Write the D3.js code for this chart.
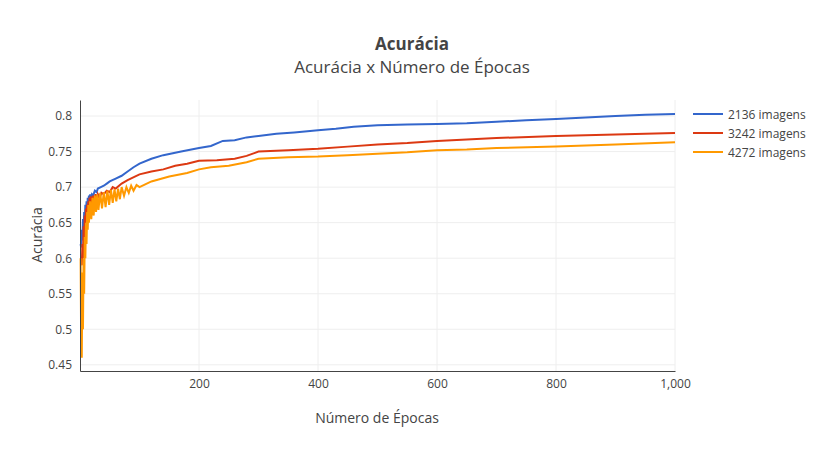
<!DOCTYPE html>
<html>
<head>
<meta charset="utf-8">
<script src="https://cdn.jsdelivr.net/npm/d3@7"></script>
<style>
body{margin:0;background:#fff;font-family:"Open Sans",sans-serif;}
.grid line{stroke:#eee;}
.axis text{fill:#444;font-size:12px;}
</style>
</head>
<body>
<script>
var names = ["2136 imagens", "3242 imagens", "4272 imagens"];
var colors = ["#3366cc", "#dc3912", "#ff9900"];
var epochsA = [1,2,3,4,5,6,7,8,9,10,11,12,13,14,15,16,17,18,20,22,25,28,30,35,40,45,50,60,70,80,90,100,120,140,170,200,220,240,260,280,300,330,360,400,430,460,500,550,600,650,700,750,800,850,900,950,1000];
var valsA = [0.62,0.615,0.64,0.625,0.655,0.635,0.665,0.65,0.675,0.66,0.68,0.665,0.685,0.675,0.688,0.68,0.69,0.685,0.69,0.688,0.695,0.693,0.698,0.70,0.702,0.705,0.708,0.712,0.716,0.722,0.728,0.733,0.74,0.745,0.75,0.755,0.758,0.765,0.766,0.77,0.772,0.775,0.777,0.78,0.782,0.785,0.787,0.788,0.789,0.79,0.792,0.794,0.796,0.798,0.80,0.802,0.803];
var epochsB = [2,3,4,5,6,7,8,9,10,11,12,13,14,15,16,17,18,20,22,24,26,28,30,33,36,40,45,50,55,60,70,80,100,120,140,160,180,200,230,260,280,300,350,400,450,500,550,600,700,800,900,1000];
var valsB = [0.60,0.59,0.62,0.60,0.645,0.62,0.66,0.64,0.67,0.65,0.675,0.66,0.68,0.665,0.685,0.67,0.687,0.675,0.688,0.678,0.69,0.68,0.69,0.685,0.692,0.69,0.695,0.693,0.70,0.698,0.705,0.71,0.718,0.722,0.725,0.73,0.733,0.737,0.738,0.74,0.744,0.75,0.752,0.754,0.757,0.76,0.762,0.765,0.769,0.772,0.774,0.776];
var epochsC = [1,2,3,4,5,6,7,8,9,10,11,12,13,14,15,17,19,21,23,25,27,29,31,34,37,40,43,46,49,52,55,58,61,64,67,70,74,78,82,86,90,95,100,120,150,180,200,220,250,280,300,350,400,450,500,550,600,650,700,800,900,1000];
var valsC = [0.60,0.47,0.46,0.58,0.50,0.60,0.55,0.63,0.60,0.65,0.62,0.665,0.64,0.675,0.65,0.68,0.655,0.685,0.66,0.688,0.665,0.69,0.668,0.692,0.67,0.693,0.672,0.695,0.675,0.696,0.678,0.697,0.68,0.698,0.683,0.70,0.688,0.70,0.692,0.702,0.695,0.703,0.70,0.708,0.715,0.72,0.725,0.728,0.73,0.735,0.74,0.742,0.743,0.745,0.747,0.749,0.752,0.753,0.755,0.757,0.76,0.763];
var series = [[epochsA, valsA], [epochsB, valsB], [epochsC, valsC]];
var yTicks = [0.45,0.5,0.55,0.6,0.65,0.7,0.75,0.8];
var xTicks = [200,400,600,800,1000];

var W = 824, H = 451, m = {l:80, r:149, t:100, b:80};
var svg = d3.select("body").append("svg").attr("width", W).attr("height", H);
var x = d3.scaleLinear().domain([0,1000]).range([m.l, W-m.r]);
var y = d3.scaleLinear().domain([0.4413,0.8226]).range([H-m.b, m.t]);

svg.append("g").attr("class","grid").selectAll("line").data(yTicks).enter().append("line")
  .attr("x1", m.l).attr("x2", W-m.r).attr("y1", d=>y(d)).attr("y2", d=>y(d));
svg.append("g").attr("class","grid").selectAll("line").data(xTicks).enter().append("line")
  .attr("y1", m.t).attr("y2", H-m.b).attr("x1", d=>x(d)).attr("x2", d=>x(d));

var line = d3.line().x(d=>x(d[0])).y(d=>y(d[1]));
series.forEach(function(s, i){
  var pts = s[0].map((e,j)=>[e, s[1][j]]);
  svg.append("path").datum(pts).attr("d", line).attr("fill","none")
    .attr("stroke", colors[i]).attr("stroke-width", 2);
});

var xa = svg.append("g").attr("class","axis").attr("transform","translate(0,"+(H-m.b)+")")
  .call(d3.axisBottom(x).tickValues(xTicks).tickSize(0).tickPadding(8));
xa.select(".domain").attr("stroke","#444");
var ya = svg.append("g").attr("class","axis").attr("transform","translate("+m.l+",0)")
  .call(d3.axisLeft(y).tickValues(yTicks).tickFormat(d3.format("")).tickSize(0).tickPadding(8));
ya.select(".domain").attr("stroke","#444");
svg.selectAll(".axis text").style("font-family","Open Sans");

svg.append("text").attr("x", 412).attr("y", 50).attr("text-anchor","middle")
  .style("font-size","17px").style("font-weight","bold").attr("fill","#444").text("Acurácia");
svg.append("text").attr("x", 412).attr("y", 73).attr("text-anchor","middle")
  .style("font-size","17px").attr("fill","#444").text("Acurácia x Número de Épocas");
svg.append("text").attr("x", 377).attr("y", 423).attr("text-anchor","middle")
  .style("font-size","14px").attr("fill","#444").text("Número de Épocas");
svg.append("text").attr("transform","translate(42,235) rotate(-90)").attr("text-anchor","middle")
  .style("font-size","14px").attr("fill","#444").text("Acurácia");

names.forEach(function(n, i){
  var g = svg.append("g").attr("transform","translate(693,"+(114+i*19)+")");
  g.append("line").attr("x1",0).attr("x2",30).attr("stroke",colors[i]).attr("stroke-width",2);
  g.append("text").attr("x",35).attr("y",4.5).style("font-size","12px").attr("fill","#444").text(n);
});
</script>
</body>
</html>
